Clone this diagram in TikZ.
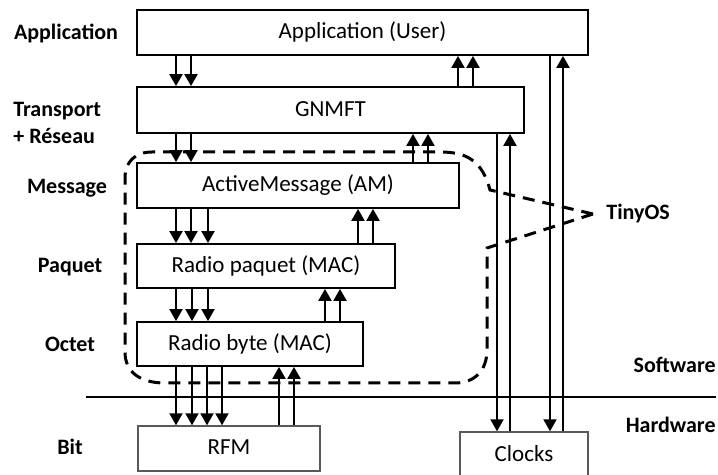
\documentclass[tikz,border=0pt]{standalone}
\usepackage{fontspec}
\setmainfont{Carlito}
\usetikzlibrary{arrows.meta, positioning}
\tikzset{
  % stacked layer boxes
  stackbox/.style={rectangle, draw=black, line width=0.9pt, fill=white,
                   inner sep=0pt, text height=0.65em, text depth=0pt,
                   font=\fontsize{11.5}{14}\selectfont},
  % hardware boxes
  hwbox/.style={stackbox, draw=black!65, line width=0.7pt},
  % level names left and right
  tierlabel/.style={inner sep=0pt, text height=0.65em, text depth=0pt,
                    font=\fontsize{11}{13.5}\selectfont\bfseries},
  % interface arrows
  iarrow/.style={-{Triangle[width=6.5pt,length=6pt]}, line width=1pt},
  % TinyOS boundary
  tinyline/.style={dash pattern=on 6pt off 4pt, line width=1.5pt},
}
\begin{document}
\begin{tikzpicture}[x=0.5pt, y=-0.5pt]
\useasboundingbox (0,0) rectangle (718,475);

% ── Layer boxes ─────────────────────────────────────────────────────────────
\node[stackbox, minimum width=225.5pt, minimum height=22.5pt] (app)    at (362.5,32.5) {Application (User)};
\node[stackbox, minimum width=193.5pt, minimum height=23pt]   (gnmft)  at (330.5,110)  {GNMFT};
\node[stackbox, minimum width=161pt,   minimum height=22.5pt] (am)     at (298,185.5)  {ActiveMessage (AM)};
\node[stackbox, minimum width=129pt,   minimum height=22pt]   (paquet) at (266,266)    {Radio paquet (MAC)};
\node[stackbox, minimum width=113pt,   minimum height=22pt]   (byte)   at (250,344)    {Radio byte (MAC)};
\node[hwbox,    minimum width=91pt,    minimum height=22.5pt] (rfm)    at (229,448.5)  {RFM};
\node[hwbox,    minimum width=64pt,    minimum height=23pt]   (clocks) at (524,455)    {Clocks};

% ── Level names ─────────────────────────────────────────────────────────────
\node[tierlabel]              (lapp)   at (66,33)   {Application};
\node[tierlabel, anchor=west] (ltrans) at (13,110)  {Transport};
\node[tierlabel, anchor=west] (lres)   at (13,137)  {+ Réseau};
\node[tierlabel]              (lmsg)   at (67,187)  {Message};
\node[tierlabel]              (lpaq)   at (70,266)  {Paquet};
\node[tierlabel]              (loct)   at (70,345)  {Octet};
\node[tierlabel]              (lbit)   at (70,448)  {Bit};
\node[tierlabel, anchor=east] (lsoft)  at (716,366) {Software};
\node[tierlabel, anchor=east] (lhard)  at (716,426) {Hardware};
\node[tierlabel, anchor=west] (ltiny)  at (606,213) {TinyOS};

% ── Software / hardware divider ─────────────────────────────────────────────
\coordinate (swl) at (86,397);
\coordinate (swr) at (716,397);
\draw[line width=0.8pt] (swl) -- (swr);

% ── Application <-> GNMFT ───────────────────────────────────────────────────
\draw[iarrow] (176,0 |- app.south) -- (176,0 |- gnmft.north);
\draw[iarrow] (191,0 |- app.south) -- (191,0 |- gnmft.north);
\draw[iarrow] (458,0 |- gnmft.north) -- (458,0 |- app.south);
\draw[iarrow] (473,0 |- gnmft.north) -- (473,0 |- app.south);

% ── GNMFT <-> ActiveMessage ─────────────────────────────────────────────────
\draw[iarrow] (176,0 |- gnmft.south) -- (176,0 |- am.north);
\draw[iarrow] (191,0 |- gnmft.south) -- (191,0 |- am.north);
\draw[iarrow] (413,0 |- am.north) -- (413,0 |- gnmft.south);
\draw[iarrow] (428,0 |- am.north) -- (428,0 |- gnmft.south);

% ── ActiveMessage <-> Radio paquet ──────────────────────────────────────────
\draw[iarrow] (176,0 |- am.south) -- (176,0 |- paquet.north);
\draw[iarrow] (191,0 |- am.south) -- (191,0 |- paquet.north);
\draw[iarrow] (208,0 |- am.south) -- (208,0 |- paquet.north);
\draw[iarrow] (358,0 |- paquet.north) -- (358,0 |- am.south);
\draw[iarrow] (373,0 |- paquet.north) -- (373,0 |- am.south);

% ── Radio paquet <-> Radio byte ─────────────────────────────────────────────
\draw[iarrow] (176,0 |- paquet.south) -- (176,0 |- byte.north);
\draw[iarrow] (192,0 |- paquet.south) -- (192,0 |- byte.north);
\draw[iarrow] (208,0 |- paquet.south) -- (208,0 |- byte.north);
\draw[iarrow] (325,0 |- byte.north) -- (325,0 |- paquet.south);
\draw[iarrow] (340,0 |- byte.north) -- (340,0 |- paquet.south);

% ── Radio byte <-> RFM ──────────────────────────────────────────────────────
\draw[iarrow] (176,0 |- byte.south) -- (176,0 |- rfm.north);
\draw[iarrow] (192,0 |- byte.south) -- (192,0 |- rfm.north);
\draw[iarrow] (207,0 |- byte.south) -- (207,0 |- rfm.north);
\draw[iarrow] (222,0 |- byte.south) -- (222,0 |- rfm.north);
\draw[iarrow] (279,0 |- rfm.north) -- (279,0 |- byte.south);
\draw[iarrow] (294,0 |- rfm.north) -- (294,0 |- byte.south);

% ── Clocks ──────────────────────────────────────────────────────────────────
\draw[iarrow] (497,0 |- gnmft.south) -- (497,0 |- clocks.north);
\draw[iarrow] (510,0 |- clocks.north) -- (510,0 |- gnmft.south);
\draw[iarrow] (550,0 |- app.south) -- (550,0 |- clocks.north);
\draw[iarrow] (563,0 |- clocks.north) -- (563,0 |- app.south);

% ── TinyOS boundary ─────────────────────────────────────────────────────────
\coordinate (tinytip) at (593,214);
\draw[tinyline] (tinytip) -- (490,190)
  .. controls (482,160) and (466,152) .. (440,152) -- (152,152)
  .. controls (135,152) and (125,162) .. (125,178) -- (125,352)
  .. controls (125,372) and (140,383) .. (165,383) -- (455,383)
  .. controls (475,383) and (487,370) .. (487,350) -- (487,248) -- (tinytip);

\end{tikzpicture}
\end{document}
